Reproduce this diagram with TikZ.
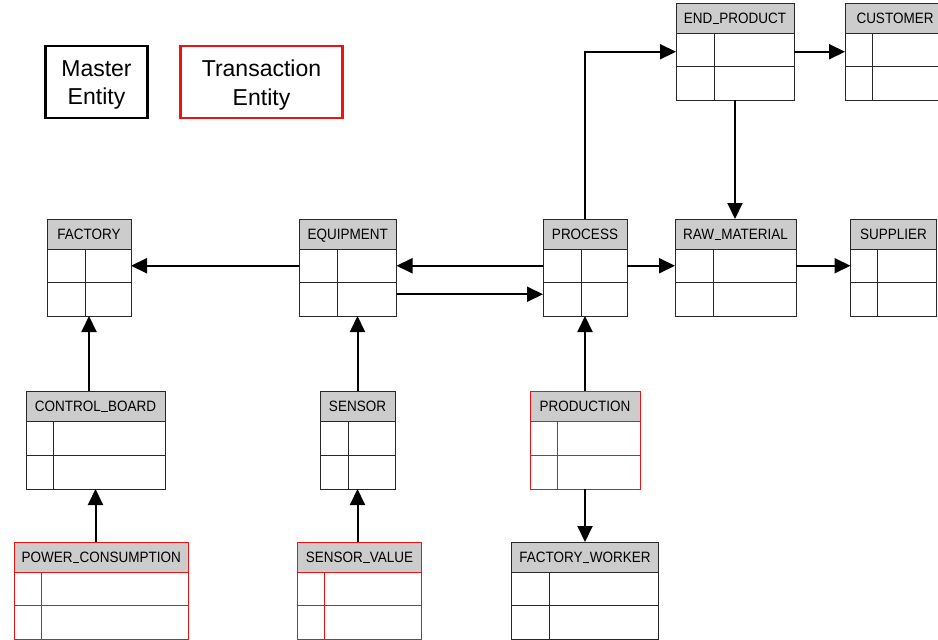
\documentclass[tikz,border=0pt]{standalone}
\usepackage{fontspec}
\setmainfont{Liberation Sans}
\newfontfamily\hdrfont[FakeStretch=0.9]{Liberation Sans}
\usetikzlibrary{arrows.meta}

\definecolor{hdrgray}{RGB}{204,204,204}
\definecolor{masterline}{RGB}{40,40,40}
\definecolor{transline}{RGB}{235,20,20}

% short underscore sitting on the baseline
\newcommand{\usc}{\kern0.03em\rule{0.42em}{0.7pt}\kern0.03em}

\tikzset{
  hdr/.style={fill=hdrgray, line width=1pt, inner sep=0pt, outer sep=0pt,
    minimum height=30pt, text height=10.5pt, text depth=0pt,
    font=\hdrfont\fontsize{15}{17}\selectfont},
  cell/.style={line width=1pt, inner sep=0pt, outer sep=0pt},
  conn/.style={line width=2pt, black, -{Triangle[length=16pt,width=15pt]}},
  legendbox/.style={line width=2.2pt, inner sep=0pt, outer sep=0pt,
    minimum height=72pt, anchor=north west},
  legendtext/.style={align=center, inner sep=0pt, font=\fontsize{23}{28.5}\selectfont}
}

% #1 name, #2 title, #3 left, #4 top, #5 right, #6 bottom, #7 column split, #8 line colour
\newcommand{\entitybox}[8]{%
  \pgfmathsetmacro\entw{#5-#3}%
  \pgfmathsetmacro\entrh{(#6-#4-30)/2}%
  \node[hdr, draw=#8, minimum width=\entw pt, anchor=north west] (#1-h) at (#3,#4) {#2};
  \node[cell, draw=#8, minimum width=\entw pt, minimum height=\entrh pt, anchor=north west] (#1-r1) at (#1-h.south west) {};
  \node[cell, draw=#8, minimum width=\entw pt, minimum height=\entrh pt, anchor=north west] (#1-r2) at (#1-r1.south west) {};
  \draw[#8, line width=1pt] (#1-r1.north -| #7,0) -- (#1-r2.south -| #7,0);
}

\begin{document}
\begin{tikzpicture}[x=1pt, y=-1pt]
\useasboundingbox (0,0) rectangle (938,640);
\clip (0,0) rectangle (938,640);

% legend
\node[legendbox, draw=black, minimum width=102pt] (legmaster) at (45.5,46) {};
\node[legendtext] (legmaster-t) at ([yshift=-3pt]legmaster.center) {Master\\Entity};
\node[legendbox, draw=transline, minimum width=162pt] (legtrans) at (180.5,46) {};
\node[legendtext] (legtrans-t) at ([yshift=-3pt]legtrans.center) {Transaction\\Entity};

% master entities
\entitybox{factory}{FACTORY}{47}{219}{131}{316}{85.5}{masterline}
\entitybox{equipment}{EQUIPMENT}{299}{219}{396.5}{316}{337.5}{masterline}
\entitybox{process}{PROCESS}{543}{219}{627}{316}{581}{masterline}
\entitybox{rawmaterial}{RAW\usc MATERIAL}{675}{219}{796}{316}{713}{masterline}
\entitybox{supplier}{SUPPLIER}{850.5}{219}{936.5}{316}{877.5}{masterline}
\entitybox{endproduct}{END\usc PRODUCT}{676}{3}{794}{100}{714}{masterline}
\entitybox{customer}{CUSTOMER}{845}{3}{945}{100}{872}{masterline}
\entitybox{controlboard}{CONTROL\usc BOARD}{26}{391}{165}{489}{53.5}{masterline}
\entitybox{sensor}{SENSOR}{320}{391}{395}{489}{348.5}{masterline}
\entitybox{factoryworker}{FACTORY\usc WORKER}{511.5}{542}{658.5}{639}{549.5}{masterline}

% transaction entities
\entitybox{production}{PRODUCTION}{530}{391}{640}{489}{557.5}{transline}
\entitybox{powerconsumption}{POWER\usc CONSUMPTION}{14}{542}{188.5}{639}{41.5}{transline}
\entitybox{sensorvalue}{SENSOR\usc VALUE}{297.5}{542}{421.5}{639}{324.5}{transline}

% relations
\draw[conn] (equipment-r1.west) -- (factory-r1.east);
\draw[conn] (process-r1.west) -- (equipment-r1.east);
\draw[conn] ([yshift=5pt]equipment-r2.east) -- ([yshift=5pt]process-r2.west);
\draw[conn] (process-r1.east) -- (rawmaterial-r1.west);
\draw[conn] (rawmaterial-r1.east) -- (supplier-r1.west);
\draw[conn] (process-h.north) |- ([yshift=-2pt]endproduct-r1.west);
\draw[conn] ([yshift=-2pt]endproduct-r1.east) -- ([yshift=-2pt]customer-r1.west);
\draw[conn] (endproduct-r2.south) -- (endproduct-r2.south |- rawmaterial-h.north);
\draw[conn] (factory-r2.south |- controlboard-h.north) -- (factory-r2.south);
\draw[conn] (controlboard-r2.south |- powerconsumption-h.north) -- (controlboard-r2.south);
\draw[conn] (sensor-h.north) -- (sensor-h.north |- equipment-r2.south);
\draw[conn] (sensor-r2.south |- sensorvalue-h.north) -- (sensor-r2.south);
\draw[conn] (production-h.north) -- (production-h.north |- process-r2.south);
\draw[conn] (production-r2.south) -- (production-r2.south |- factoryworker-h.north);
\end{tikzpicture}
\end{document}
